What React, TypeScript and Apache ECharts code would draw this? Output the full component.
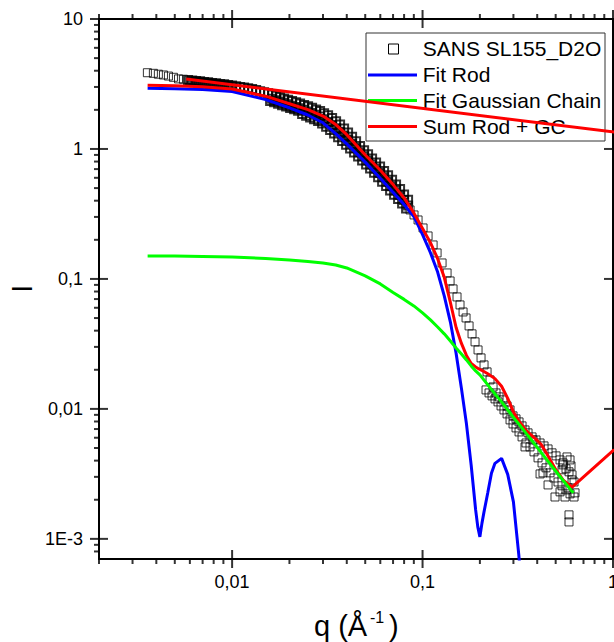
import React, { useEffect, useRef } from "react";
import * as echarts from "echarts";

const FONT = '"Liberation Sans", Arial, Helvetica, sans-serif';

// SANS SL155_D2O: scattering vector q (1/Å) and intensity I
// first points of the low-q detector setting, still resolved one by one
const sansStartQ = [0.00359, 0.00386, 0.0041, 0.00436, 0.00463, 0.00492, 0.00523, 0.00555];
const sansStartI = [3.86, 3.82, 3.76, 3.71, 3.64, 3.56, 3.46, 3.44];

// low-q detector setting where the points pile up into a band
const sansBandQ = [
  0.00587, 0.00617, 0.00647, 0.00679, 0.00713, 0.00748, 0.00785, 0.00824, 0.00865, 0.00908, 0.00953,
  0.00602, 0.00632, 0.00663, 0.00696, 0.0073, 0.00766, 0.00804, 0.00844, 0.00886, 0.0093, 0.00976,
  0.01, 0.0105, 0.01102, 0.01156, 0.01214, 0.01274, 0.01337, 0.01403, 0.01472, 0.01545,
  0.01622, 0.01702, 0.01786, 0.01875, 0.01968, 0.02065, 0.02168, 0.02275, 0.02388, 0.02506,
  0.0263, 0.02761, 0.02897, 0.03041, 0.03192, 0.0335, 0.03516, 0.0369, 0.03873, 0.04064,
  0.04266, 0.04477, 0.04699, 0.04932, 0.05176, 0.05433, 0.05702, 0.05984, 0.06281, 0.06592,
  0.06918, 0.07261, 0.07621, 0.07998, 0.08395,
  0.01583, 0.01662, 0.01744, 0.0183, 0.01921, 0.02016, 0.02116, 0.02221, 0.02331, 0.02447,
  0.02567, 0.02694, 0.02829, 0.02968, 0.03116, 0.0327, 0.03432, 0.03602, 0.0378, 0.03968,
  0.04164, 0.0437, 0.04587, 0.04814, 0.05053, 0.05303, 0.05566, 0.05842, 0.06131, 0.06435,
  0.06753, 0.07087, 0.07439, 0.07808, 0.08194,
  0.01622, 0.01702, 0.01786, 0.01875, 0.01968, 0.02065, 0.02168, 0.02275, 0.02388, 0.02506,
  0.0263, 0.02761, 0.02897, 0.03041, 0.03192, 0.0335, 0.03516, 0.0369, 0.03873, 0.04064,
  0.04266, 0.04477, 0.04699, 0.04932, 0.05176, 0.05433, 0.05702, 0.05984, 0.06281, 0.06592,
  0.06918, 0.07261, 0.07621, 0.07998, 0.08395,
];
const sansBandI = [
  3.4, 3.37, 3.34, 3.32, 3.28, 3.26, 3.22, 3.2, 3.16, 3.15, 3.11,
  3.287, 3.259, 3.236, 3.213, 3.179, 3.151, 3.129, 3.096, 3.074, 3.041, 3.009,
  3.079, 3.041, 3.004, 2.967, 2.93, 2.894, 2.843, 2.784, 2.735, 2.682,
  2.626, 2.566, 2.512, 2.45, 2.39, 2.336, 2.287, 2.239, 2.184, 2.13,
  2.074, 2.016, 1.96, 1.886, 1.814, 1.729, 1.634, 1.543, 1.438, 1.339,
  1.241, 1.144, 1.055, 0.979, 0.909, 0.845, 0.787, 0.734, 0.678, 0.628,
  0.58, 0.534, 0.492, 0.447, 0.407,
  2.34, 2.287, 2.23, 2.172, 2.123, 2.067, 2.017, 1.968, 1.862, 1.804,
  1.747, 1.692, 1.639, 1.568, 1.482, 1.4, 1.314, 1.233, 1.154, 1.079,
  1.009, 0.94, 0.876, 0.816, 0.76, 0.708, 0.655, 0.606, 0.56, 0.518,
  0.48, 0.445, 0.413, 0.381, 0.349,
  2.429, 2.371, 2.319, 2.263, 2.207, 2.155, 2.105, 2.058, 2.001, 1.944,
  1.889, 1.833, 1.778, 1.695, 1.616, 1.531, 1.441, 1.357, 1.267, 1.182,
  1.099, 1.019, 0.944, 0.878, 0.816, 0.759, 0.704, 0.654, 0.605, 0.559,
  0.517, 0.479, 0.443, 0.404, 0.368,
];

// high-q detector setting, noisier towards the end
const sansHighQ = [
  0.086, 0.0902, 0.0947, 0.1006, 0.1069, 0.1136, 0.1192, 0.1266, 0.1345, 0.1395,
  0.1446, 0.1517, 0.1573, 0.1632, 0.1692, 0.1755, 0.1819, 0.1886, 0.1956, 0.2028,
  0.2103, 0.2181, 0.2261, 0.2345, 0.2431, 0.2521, 0.2646, 0.2777, 0.288, 0.2986,
  0.3096, 0.3211, 0.333, 0.3452, 0.358, 0.3757, 0.3943, 0.414, 0.4344, 0.456,
  0.4785, 0.5022, 0.5271, 0.5465, 0.5667, 0.5875, 0.6093,
  0.2154, 0.2234, 0.2317, 0.2402, 0.2491, 0.2583, 0.2677, 0.2777, 0.288, 0.2986,
  0.3096, 0.3211, 0.333, 0.3494, 0.3666, 0.3848, 0.404, 0.424, 0.4449, 0.467,
  0.49, 0.5144, 0.5399, 0.5667, 0.5948, 0.6243,
  0.3452, 0.3803, 0.429, 0.456, 0.496, 0.5465, 0.5948, 0.5735, 0.6093, 0.6318,
  0.5875, 0.5875, 0.414, 0.5271, 0.5598, 0.5805, 0.6243, 0.6019, 0.5399,
];
const sansHighI = [
  0.3395, 0.3107, 0.2843, 0.2468, 0.2142, 0.1826, 0.1585, 0.1327, 0.1112, 0.0965,
  0.0838, 0.0727, 0.0631, 0.0557, 0.0501, 0.0435, 0.0378, 0.0328, 0.02843, 0.02468,
  0.02181, 0.01926, 0.01671, 0.01476, 0.01327, 0.01237, 0.01173, 0.01054, 0.00982, 0.00884,
  0.00838, 0.00794, 0.0074, 0.00689, 0.00654, 0.00609, 0.00577, 0.00547, 0.00519, 0.00492,
  0.00459, 0.00435, 0.00405, 0.00371, 0.00346, 0.00328, 0.00311,
  0.014, 0.01327, 0.01259, 0.01194, 0.01132, 0.01054, 0.00982, 0.00915, 0.00823, 0.00766,
  0.00714, 0.00665, 0.00609, 0.00547, 0.0051, 0.00467, 0.0042, 0.00384, 0.00352, 0.00322,
  0.00294, 0.00274, 0.00256, 0.00238, 0.00222, 0.0021,
  0.0051, 0.00577, 0.00322, 0.0026, 0.0021, 0.00384, 0.00405, 0.00427, 0.00284, 0.00226,
  0.00153, 0.00135, 0.00316, 0.0023, 0.0021, 0.00247, 0.00274, 0.00364, 0.0034,
];

// Rod form factor fit
const rodQ = [
  0.0036, 0.005, 0.007, 0.01, 0.015, 0.02, 0.025, 0.03, 0.035, 0.04, 0.05, 0.06, 0.07, 0.08,
  0.09, 0.1, 0.11, 0.12, 0.13, 0.14, 0.15, 0.16, 0.17, 0.18, 0.19, 0.195, 0.2, 0.205, 0.21,
  0.22, 0.23, 0.24, 0.26, 0.28, 0.3, 0.32, 0.33,
];
const rodI = [
  2.93, 2.905, 2.863, 2.769, 2.399, 2.074, 1.826, 1.59, 1.314, 1.094, 0.792, 0.595, 0.465, 0.3735,
  0.3026, 0.2192, 0.159, 0.113, 0.074, 0.0466, 0.02683, 0.01438, 0.00768, 0.00369, 0.00167, 0.001237, 0.001036, 0.001316, 0.001599,
  0.002266, 0.0032, 0.00381, 0.00416, 0.003134, 0.001926, 0.00076, 0.000443,
];

// Gaussian chain fit
const chainQ = [
  0.0036, 0.005, 0.007, 0.01, 0.015, 0.02, 0.025, 0.03, 0.035, 0.04, 0.05, 0.06, 0.07, 0.08,
  0.09, 0.1, 0.11, 0.12, 0.13, 0.14, 0.15, 0.16, 0.17, 0.18, 0.19, 0.2, 0.22, 0.24, 0.26,
  0.28, 0.3, 0.32, 0.35, 0.4, 0.45, 0.5, 0.55, 0.6, 0.62,
];
const chainI = [
  0.1503, 0.1503, 0.149, 0.1477, 0.1438, 0.14, 0.1363, 0.1327, 0.1281, 0.1215, 0.1055, 0.0915, 0.0787, 0.0696,
  0.062, 0.0548, 0.0484, 0.0427, 0.0378, 0.0333, 0.02945, 0.02648, 0.02381, 0.02142, 0.0196, 0.01826, 0.01529, 0.01304, 0.01132,
  0.00982, 0.0086, 0.00766, 0.00648, 0.00506, 0.00405, 0.00333, 0.00279, 0.00238, 0.00226,
];

// Sum of both fits; the exported curve ends with a far point and runs back to its start
const sumQ = [
  0.0036, 0.005, 0.007, 0.01, 0.015, 0.02, 0.025, 0.03, 0.035, 0.04, 0.05, 0.06, 0.07, 0.08,
  0.09, 0.1, 0.11, 0.12, 0.13, 0.14, 0.15, 0.16, 0.17, 0.18, 0.19, 0.2, 0.21, 0.22, 0.24,
  0.26, 0.28, 0.3, 0.32, 0.35, 0.4, 0.42, 0.45, 0.47, 0.5, 0.55, 0.61, 44, 0.00574,
];
const sumI = [
  3.09, 3.063, 3.009, 2.894, 2.548, 2.227, 2.006, 1.791, 1.541, 1.288, 0.899, 0.686, 0.532, 0.42,
  0.322, 0.2446, 0.1902, 0.1433, 0.1029, 0.0659, 0.0423, 0.0319, 0.0258, 0.02239, 0.02103, 0.02012, 0.0194, 0.01866, 0.0171,
  0.01495, 0.01205, 0.00948, 0.00809, 0.0068, 0.00572, 0.00532, 0.00449, 0.00401, 0.00342, 0.00281, 0.0025, 0.68, 3.455,
];

// Axis ticks and their labels
const xMajor = [0.01, 0.1, 1];
const xMajorLabels = ["0,01", "0,1", "1"];
const yMajor = [0.001, 0.01, 0.1, 1, 10];
const yMajorLabels = ["1E-3", "0,01", "0,1", "1", "10"];
const xMinor = [
  0.002, 0.003, 0.004, 0.005, 0.006, 0.007, 0.008, 0.009,
  0.02, 0.03, 0.04, 0.05, 0.06, 0.07, 0.08, 0.09,
  0.2, 0.3, 0.4, 0.5, 0.6, 0.7, 0.8, 0.9,
];
const yMinor = [
  0.0008, 0.0009,
  0.002, 0.003, 0.004, 0.005, 0.006, 0.007, 0.008, 0.009,
  0.02, 0.03, 0.04, 0.05, 0.06, 0.07, 0.08, 0.09,
  0.2, 0.3, 0.4, 0.5, 0.6, 0.7, 0.8, 0.9,
  2, 3, 4, 5, 6, 7, 8, 9,
];

const legendNames = ["SANS SL155_D2O", "Fit Rod", "Fit Gaussian Chain", "Sum Rod + GC"];
const ROD = "#0000ff";
const CHAIN = "#00ff00";
const SUM = "#ff0000";

const X_MIN = 0.002;
const X_MAX = 1;
const Y_MIN = 0.0007;
const Y_MAX = 10;

const pairs = (xs: number[], ys: number[]) => xs.map((x, i) => [x, ys[i]]);

const labelFor = (values: number[], labels: string[]) => (v: number) => {
  const i = values.findIndex((t) => Math.abs(Math.log10(v) - Math.log10(t)) < 1e-6);
  return i >= 0 ? labels[i] : "";
};

const frameAxis = (position: string) => ({
  type: "log",
  logBase: 10,
  position,
  axisLine: { show: true, onZero: false, lineStyle: { color: "#000", width: 2 } },
  axisTick: { show: false },
  splitLine: { show: false },
  minorTick: { show: false },
  minorSplitLine: { show: false },
});

const squares = (data: number[][], border: number) => ({
  name: legendNames[0],
  type: "scatter",
  symbol: "rect",
  symbolSize: 8,
  itemStyle: { color: "rgba(0,0,0,0)", borderColor: "#000", borderWidth: border },
  data,
  z: 2,
});

// Origin-style tick marks placed on the frame through the axes' scales:
// major ticks cross the frame, minor ticks point outwards
const tickMarks = (data: number[][], size: number[], offset: number[]) => ({
  type: "scatter",
  silent: true,
  clip: false,
  symbol: "rect",
  symbolSize: size,
  symbolOffset: offset,
  itemStyle: { color: "#000", borderWidth: 0 },
  emphasis: { disabled: true },
  data,
  z: 6,
});

export default function App() {
  const ref = useRef<HTMLDivElement>(null);

  useEffect(() => {
    if (!ref.current) return;
    const chart = echarts.init(ref.current, undefined, { renderer: "svg" });

    const legendTop = 33;
    const legendLeft = 366;
    const rowY = [16, 42, 67.5, 93.5];

    chart.setOption({
      animation: false,
      backgroundColor: "#fff",
      grid: { left: 99, right: 1, top: 19, bottom: 83, containLabel: false, outerBoundsMode: "none" },
      xAxis: [
        {
          ...frameAxis("bottom"),
          min: X_MIN,
          max: X_MAX,
          axisLabel: {
            show: true,
            margin: 14,
            color: "#000",
            fontSize: 18,
            fontFamily: FONT,
            formatter: labelFor(xMajor, xMajorLabels),
            showMinLabel: false,
          },
        },
        { ...frameAxis("top"), min: X_MIN, max: X_MAX, axisLabel: { show: false } },
      ],
      yAxis: [
        {
          ...frameAxis("left"),
          min: Y_MIN,
          max: Y_MAX,
          axisLabel: {
            show: true,
            margin: 16,
            color: "#000",
            fontSize: 18,
            fontFamily: FONT,
            formatter: labelFor(yMajor, yMajorLabels),
            showMinLabel: false,
          },
        },
        { ...frameAxis("right"), min: Y_MIN, max: Y_MAX, axisLabel: { show: false } },
      ],
      series: [
        squares(pairs(sansStartQ, sansStartI), 1),
        squares(pairs(sansBandQ, sansBandI), 2),
        squares(pairs(sansHighQ, sansHighI), 1),
        {
          name: legendNames[1],
          type: "line",
          symbol: "none",
          lineStyle: { color: ROD, width: 3 },
          data: pairs(rodQ, rodI),
          z: 3,
        },
        {
          name: legendNames[3],
          type: "line",
          symbol: "none",
          lineStyle: { color: SUM, width: 3 },
          data: pairs(sumQ, sumI),
          z: 4,
        },
        {
          name: legendNames[2],
          type: "line",
          symbol: "none",
          lineStyle: { color: CHAIN, width: 3 },
          data: pairs(chainQ, chainI),
          z: 5,
        },
        tickMarks(xMajor.map((v) => [v, Y_MIN]), [2, 18], [0, 0]),
        tickMarks(xMajor.map((v) => [v, Y_MAX]), [2, 18], [0, 0]),
        tickMarks(xMinor.map((v) => [v, Y_MIN]), [2, 5], [0, 2.5]),
        tickMarks(xMinor.map((v) => [v, Y_MAX]), [2, 5], [0, -2.5]),
        tickMarks(yMajor.map((v) => [X_MIN, v]), [18, 2], [0, 0]),
        tickMarks(yMajor.map((v) => [X_MAX, v]), [18, 2], [0, 0]),
        tickMarks(yMinor.map((v) => [X_MIN, v]), [5, 2], [-2.5, 0]),
        tickMarks(yMinor.map((v) => [X_MAX, v]), [5, 2], [2.5, 0]),
      ],
      graphic: [
        {
          type: "text",
          x: 21.5,
          y: 288.7,
          rotation: Math.PI / 2,
          style: {
            text: "I",
            fontSize: 29,
            fontFamily: FONT,
            fill: "#000",
            align: "center",
            verticalAlign: "middle",
          },
        },
        {
          type: "text",
          x: 314,
          y: 625.5,
          style: { text: "q (Å", fontSize: 29, fontFamily: FONT, fill: "#000", align: "left", verticalAlign: "middle" },
        },
        {
          type: "text",
          x: 370,
          y: 617.4,
          style: { text: "-1", fontSize: 16, fontFamily: FONT, fill: "#000", align: "left", verticalAlign: "middle" },
        },
        {
          type: "text",
          x: 389,
          y: 625.5,
          style: { text: ")", fontSize: 29, fontFamily: FONT, fill: "#000", align: "left", verticalAlign: "middle" },
        },
        {
          type: "group",
          x: legendLeft,
          y: legendTop,
          children: [
            {
              type: "rect",
              shape: { x: 0, y: 0, width: 239, height: 108 },
              style: { fill: "none", stroke: "#333", lineWidth: 1 },
            },
            {
              type: "rect",
              shape: { x: 22.5, y: rowY[0] - 5, width: 10, height: 10 },
              style: { fill: "none", stroke: "#000", lineWidth: 1 },
            },
            ...[ROD, CHAIN, SUM].map((c, i) => ({
              type: "line",
              shape: { x1: 2, y1: rowY[i + 1], x2: 51, y2: rowY[i + 1] },
              style: { stroke: c, lineWidth: 3 },
            })),
            ...legendNames.map((name, i) => ({
              type: "text",
              x: 56.7,
              y: rowY[i] - 0.3,
              style: {
                text: name,
                fontSize: 21,
                fontFamily: FONT,
                fill: "#000",
                align: "left",
                verticalAlign: "middle",
              },
            })),
          ],
        },
      ],
    });

    return () => chart.dispose();
  }, []);

  return (
    <div
      ref={ref}
      style={{ position: "fixed", left: 0, top: 0, width: 614, height: 642, background: "#fff" }}
    />
  );
}
